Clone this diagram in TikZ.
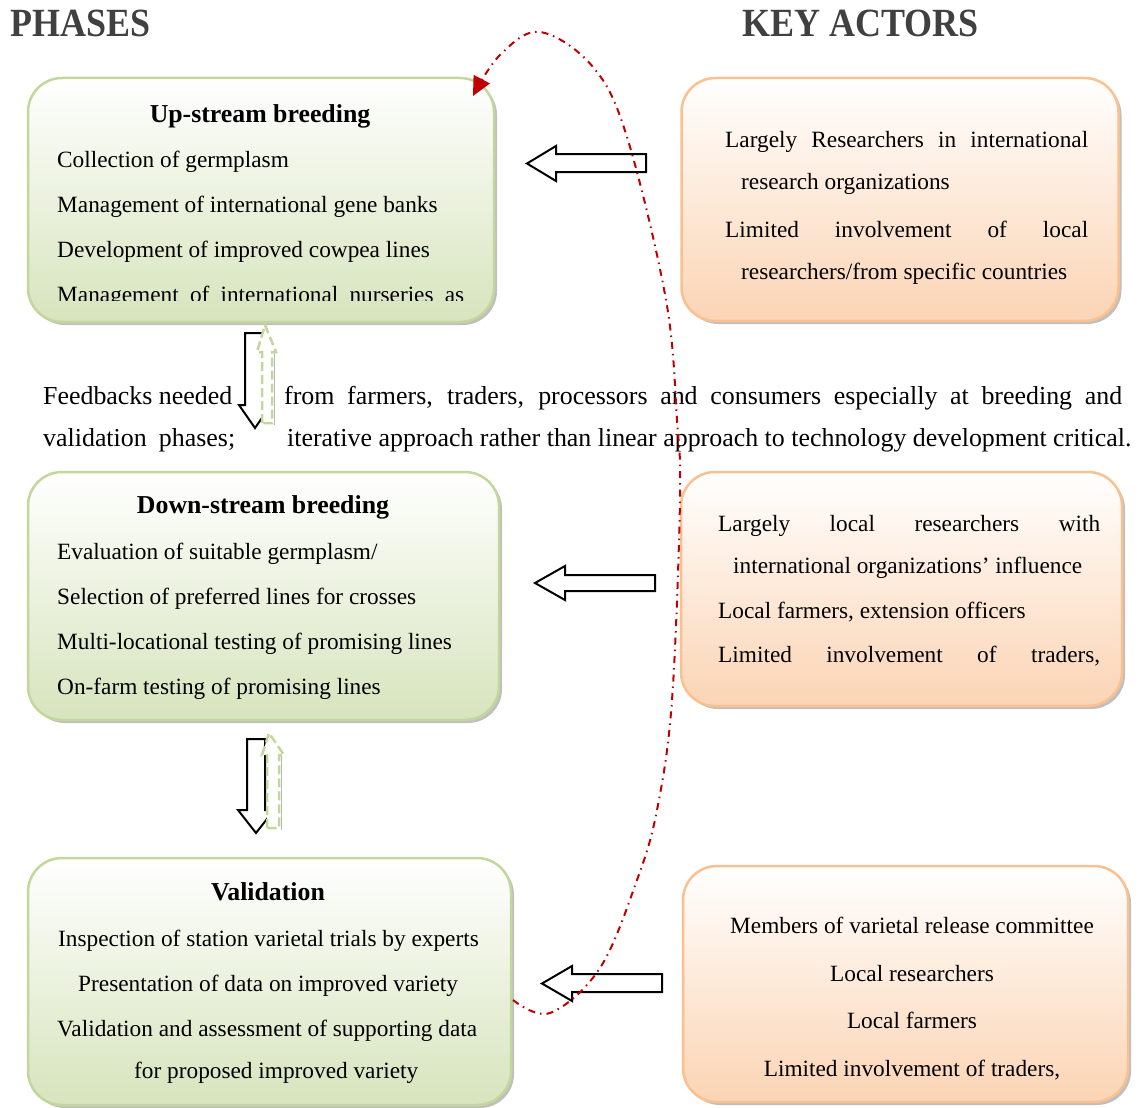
\documentclass[tikz,border=0pt]{standalone}
\usepackage{fontspec}
\setmainfont{Liberation Serif}
\usetikzlibrary{arrows.meta,shadows}
\definecolor{greenb}{HTML}{C3D69B}
\definecolor{greenf}{HTML}{D7E4BD}
\definecolor{orangeb}{HTML}{FAC090}
\definecolor{orangef}{HTML}{FBD4B4}
\definecolor{redc}{HTML}{C00000}
\definecolor{headc}{HTML}{404040}
\begin{document}
\begin{tikzpicture}[x=1pt,y=-1pt,
  phasebox/.style={draw=greenb, line width=2.5pt, top color=white, bottom color=greenf,
    rounded corners=34pt, inner sep=0pt, outer sep=0pt,
    general shadow={fill=gray!50, shadow xshift=3pt, shadow yshift=-3pt}},
  keybox/.style={draw=orangeb, line width=2.5pt, top color=white, bottom color=orangef,
    rounded corners=34pt, inner sep=0pt, outer sep=0pt,
    general shadow={fill=gray!50, shadow xshift=3pt, shadow yshift=-3pt}},
  body/.style={font=\fontsize{23.3}{28}\selectfont, anchor=base west, inner sep=0pt},
  bodyc/.style={font=\fontsize{23.3}{28}\selectfont, anchor=base, inner sep=0pt},
  ttl/.style={font=\fontsize{25.8}{30}\selectfont\bfseries, anchor=base, inner sep=0pt},
  feed/.style={font=\fontsize{25.9}{30}\selectfont, anchor=base west, inner sep=0pt},
  head/.style={font=\fontsize{40}{44}\selectfont\bfseries, text=headc, anchor=base west, inner sep=0pt, xscale=0.9},
  blockarrow/.style={draw=black, line width=2pt, fill=white, line join=miter},
  greenarrow/.style={draw=greenb, line width=2.5pt, fill=white, dash pattern=on 9pt off 4pt},
  feedback/.style={draw=redc, line width=2pt, dash pattern=on 7pt off 5pt on 1.5pt off 5pt,
    -{Triangle[length=19pt,width=18pt]}}
]
\useasboundingbox (0,0) rectangle (1141,1108);

% headings
\node[head] (hph) at (10,37) {PHASES};
\node[head] (hka) at (742,37) {KEY ACTORS};

% boxes
\node[phasebox, minimum width=466pt, minimum height=244pt] (up) at (261,200) {};
\node[phasebox, minimum width=471pt, minimum height=248pt] (down) at (263.5,596) {};
\node[phasebox, minimum width=483pt, minimum height=247pt] (val) at (269.5,981.5) {};
\node[keybox, minimum width=437pt, minimum height=243pt] (k1) at (900,199.5) {};
\node[keybox, minimum width=441pt, minimum height=234pt] (k2) at (901.5,589) {};
\node[keybox, minimum width=445pt, minimum height=236pt] (k3) at (905.5,984) {};

% upstream text
\node[ttl] (upt) at (260,122) {Up-stream breeding};
\node[body] (u1) at (57,167) {Collection of germplasm};
\node[body] (u2) at (57,212) {Management of international gene banks};
\node[body] (u3) at (57,257) {Development of improved cowpea lines};
\begin{scope}
  \clip (28,78) rectangle (494,300);
  \node[body] (u4) at (57,302) {\makebox[407pt][s]{Management of international nurseries as}};
\end{scope}

% key actors 1
\node[body] (a1) at (725,147) {\makebox[363pt][s]{Largely Researchers in international}};
\node[body] (a2) at (741,189) {research organizations};
\node[body] (a3) at (725,237) {\makebox[363pt][s]{Limited involvement of local}};
\node[body] (a4) at (741,279) {researchers/from specific countries};

% feedback text
\node[feed] (f1) at (43,404) {Feedbacks needed};
\node[feed] (f2) at (284,404) {\makebox[838pt][s]{from farmers, traders, processors and consumers especially at breeding and}};
\node[feed] (f3) at (43,446) {\makebox[192pt][s]{validation phases;}};
\node[feed] (f4) at (287,446) {iterative approach rather than linear approach to technology development critical.};

% downstream text
\node[ttl] (dnt) at (263,513) {Down-stream breeding};
\node[body] (d1) at (57,559) {Evaluation of suitable germplasm/};
\node[body] (d2) at (57,604) {Selection of preferred lines for crosses};
\node[body] (d3) at (57,649) {Multi-locational testing of promising lines};
\node[body] (d4) at (57,694) {On-farm testing of promising lines};

% key actors 2
\node[body] (b1) at (718,531) {\makebox[382pt][s]{Largely local researchers with}};
\node[body] (b2) at (733,573) {international organizations’ influence};
\node[body] (b3) at (718,618) {Local farmers, extension officers};
\node[body] (b4) at (718,662) {\makebox[382pt][s]{Limited involvement of traders,}};

% validation text
\node[ttl] (vt) at (268,900) {Validation};
\node[body] (v1) at (58,946) {Inspection of station varietal trials by experts};
\node[body] (v2) at (78,991) {Presentation of data on improved variety};
\node[body] (v3) at (57,1036) {Validation and assessment of supporting data};
\node[body] (v4) at (134,1078) {for proposed improved variety};

% key actors 3
\node[bodyc] (c1) at (912,933) {Members of varietal release committee};
\node[bodyc] (c2) at (912,981) {Local researchers};
\node[bodyc] (c3) at (912,1028) {Local farmers};
\node[bodyc] (c4) at (912,1076) {Limited involvement of traders,};

% left block arrows (key actors -> phases)
\draw[blockarrow] (646,154) -- (556,154) -- (556,146) -- (527,163.5) -- (556,181) -- (556,172) -- (646,172) -- cycle;
\draw[blockarrow] (655,575) -- (565,575) -- (565,566) -- (535,583) -- (565,600) -- (565,591) -- (655,591) -- cycle;
\draw[blockarrow] (662,974) -- (572,974) -- (572,966) -- (542,983.5) -- (572,1001) -- (572,992) -- (662,992) -- cycle;

% down arrows between phases
\draw[blockarrow] (245,333) -- (265,333) -- (265,405) -- (271,405) -- (255,428) -- (239,405) -- (245,405) -- cycle;
\fill[gray!55] (273.5,352) rectangle (275,425);
\draw[greenarrow] (262,423) -- (262,352) -- (257,352) -- (265,325) -- (276,352) -- (272,352) -- (272,423) -- cycle;

\draw[blockarrow] (247,739) -- (265,739) -- (265,810) -- (274,810) -- (256,833) -- (238,810) -- (247,810) -- cycle;
\fill[gray!55] (280.5,755) rectangle (282,830);
\draw[greenarrow] (267,828) -- (267,755) -- (262,755) -- (269,733) -- (284,755) -- (279,755) -- (279,828) -- cycle;

% red feedback curve
\coordinate (cs) at (513,1000);
\coordinate (ce) at (473,96);
\draw[feedback] plot[smooth, tension=0.6] coordinates {(cs) (550,1013) (600,968) (637,880) (657,810) (672,700) (680,500) (677,420) (666,300) (627,137) (593,67) (540,32) (500,55) (ce)};
\end{tikzpicture}
\end{document}
